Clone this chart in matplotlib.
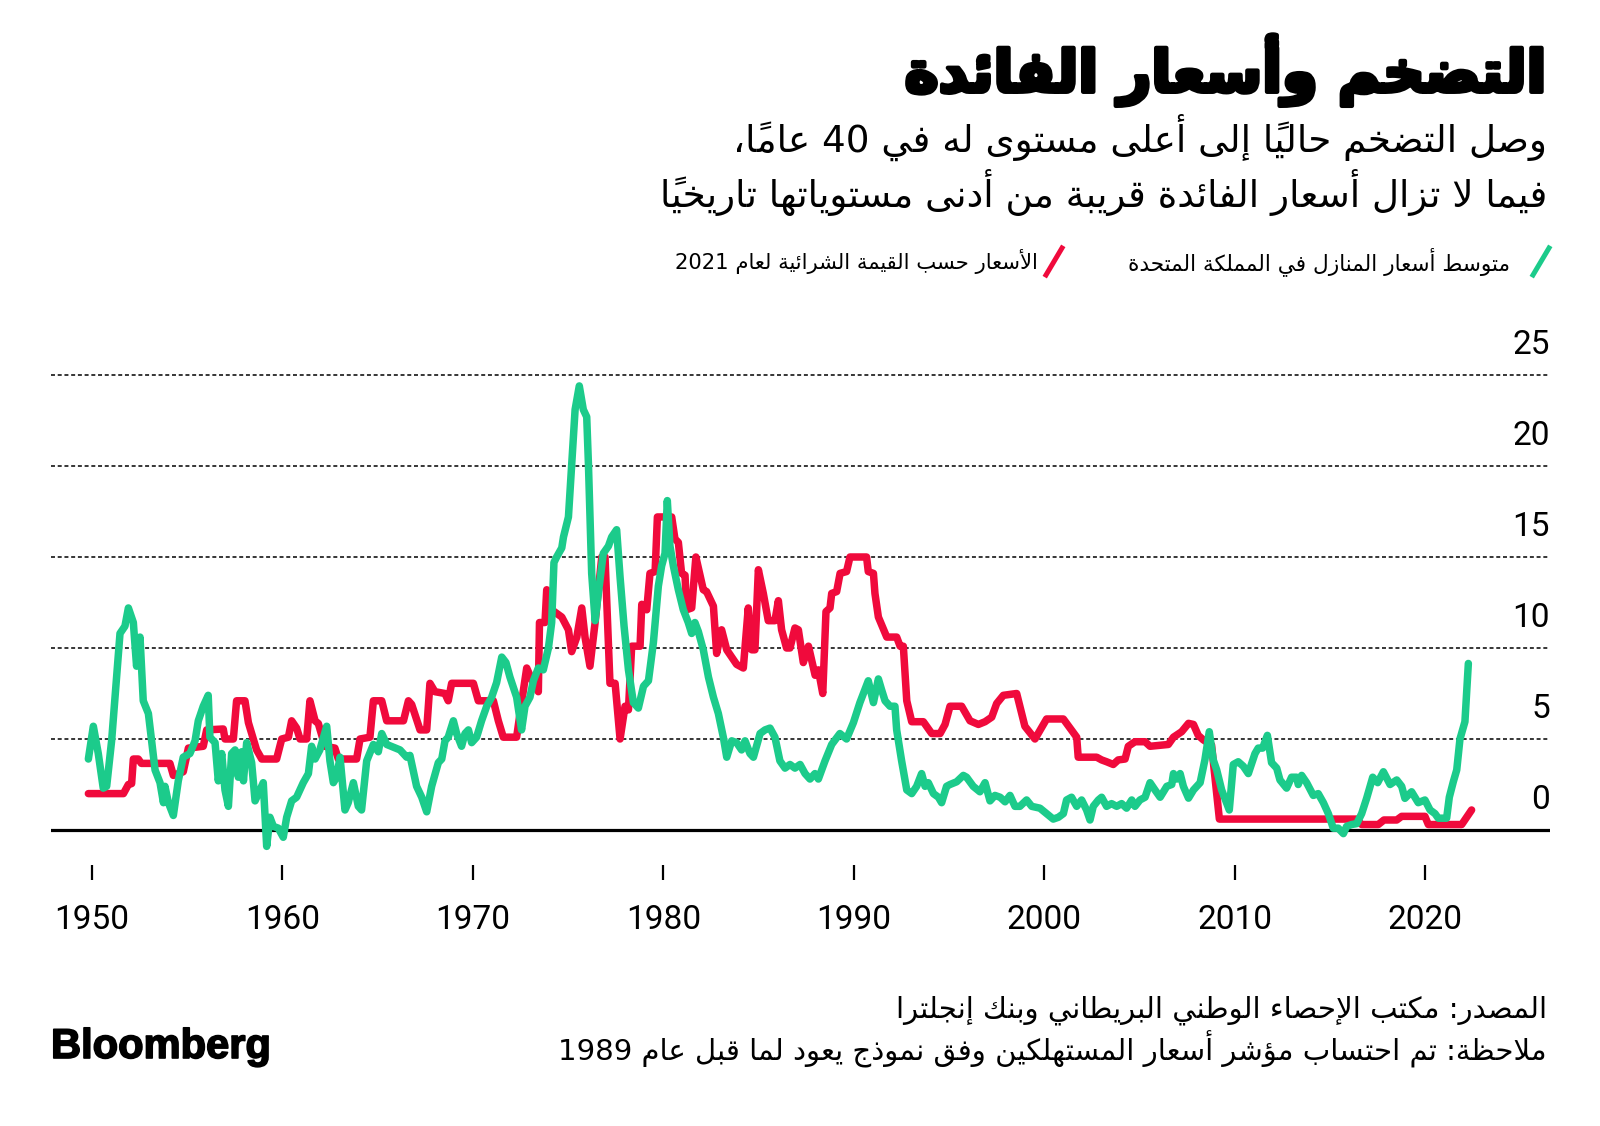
import numpy as np
import matplotlib
matplotlib.use('Agg')
import matplotlib.pyplot as plt
from matplotlib.lines import Line2D
import matplotlib.patheffects as pe

# %% data
cpi_year = [1949.82, 1950.08, 1950.34, 1950.60, 1950.78, 1951.04, 1951.48, 1951.74, 1951.92, 1952.18,
            1952.35, 1952.53, 1952.70, 1952.97, 1953.14, 1953.32, 1953.58, 1953.76, 1953.84, 1954.02,
            1954.28, 1954.54, 1954.80, 1955.15, 1955.42, 1955.59, 1955.85, 1956.11, 1956.20, 1956.47,
            1956.64, 1956.82, 1956.99, 1957.17, 1957.34, 1957.52, 1957.69, 1957.87, 1957.96, 1958.13,
            1958.39, 1958.57, 1958.83, 1959.00, 1959.18, 1959.35, 1959.53, 1959.79, 1960.05, 1960.23,
            1960.49, 1960.75, 1961.10, 1961.37, 1961.54, 1961.72, 1961.97, 1962.33, 1962.50, 1962.68,
            1962.85, 1963.03, 1963.29, 1963.46, 1963.73, 1963.99, 1964.16, 1964.43, 1964.78, 1965.04,
            1965.22, 1965.48, 1966.18, 1966.53, 1966.70, 1967.05, 1967.32, 1967.58, 1967.84, 1968.19,
            1968.37, 1968.54, 1968.71, 1968.98, 1969.15, 1969.41, 1969.59, 1969.77, 1969.94, 1970.20,
            1970.46, 1970.73, 1970.99, 1971.25, 1971.52, 1971.74, 1971.95, 1972.30, 1972.56, 1972.74,
            1973.00, 1973.18, 1973.44, 1973.70, 1973.97, 1974.14, 1974.26, 1974.40, 1974.67, 1974.76,
            1975.02, 1975.19, 1975.37, 1975.59, 1975.80, 1975.98, 1976.07, 1976.24, 1976.42, 1976.59,
            1976.85, 1977.12, 1977.29, 1977.55, 1977.73, 1977.94, 1978.17, 1978.43, 1978.69, 1978.96,
            1979.22, 1979.48, 1979.74, 1979.91, 1980.09, 1980.21, 1980.35, 1980.53, 1980.79, 1981.05,
            1981.31, 1981.49, 1981.66, 1981.84, 1982.10, 1982.37, 1982.63, 1982.89, 1983.15, 1983.33,
            1983.59, 1983.85, 1984.11, 1984.29, 1984.55, 1984.73, 1985.08, 1985.34, 1985.60, 1985.86,
            1986.12, 1986.39, 1986.65, 1986.91, 1987.18, 1987.44, 1987.70, 1987.96, 1988.14, 1988.49,
            1988.84, 1989.27, 1989.62, 1989.98, 1990.32, 1990.76, 1991.03, 1991.29, 1991.46, 1991.64,
            1991.90, 1992.16, 1992.25, 1992.51, 1992.78, 1993.04, 1993.30, 1993.56, 1993.74, 1993.91,
            1994.18, 1994.44, 1994.61, 1994.87, 1995.05, 1995.40, 1995.75, 1995.92, 1996.27, 1996.62,
            1996.89, 1997.15, 1997.41, 1997.68, 1997.94, 1998.20, 1998.46, 1998.72, 1999.07, 1999.34,
            1999.77, 2000.12, 2000.47, 2000.74, 2001.00, 2001.17, 2001.43, 2001.70, 2001.96, 2002.22,
            2002.40, 2002.57, 2002.84, 2003.01, 2003.27, 2003.53, 2003.80, 2004.06, 2004.32, 2004.59,
            2004.76, 2005.02, 2005.29, 2005.55, 2005.81, 2006.08, 2006.43, 2006.69, 2006.78, 2006.95,
            2007.13, 2007.30, 2007.57, 2007.83, 2008.18, 2008.43, 2008.66, 2008.87, 2009.05, 2009.31,
            2009.71, 2009.92, 2010.18, 2010.45, 2010.71, 2011.06, 2011.23, 2011.46, 2011.71, 2011.93,
            2012.20, 2012.37, 2012.72, 2012.98, 2013.25, 2013.33, 2013.51, 2013.77, 2014.12, 2014.38,
            2014.65, 2014.91, 2015.17, 2015.43, 2015.70, 2015.87, 2016.13, 2016.40, 2016.66, 2016.92,
            2017.24, 2017.50, 2017.80, 2018.15, 2018.50, 2018.76, 2018.93, 2019.28, 2019.63, 2019.98,
            2020.25, 2020.51, 2020.68, 2021.12, 2021.26, 2021.47, 2021.65, 2021.82, 2022.08, 2022.26]
cpi_value = [3.9, 5.7, 4.2, 2.3, 2.4, 4.9, 10.8, 11.2, 12.2, 11.4,
             9.0, 10.6, 7.1, 6.4, 4.9, 3.3, 2.6, 1.5, 2.4, 1.5,
             0.8, 2.7, 4.0, 4.2, 4.9, 6.0, 6.8, 7.4, 5.1, 4.8,
             2.7, 4.2, 2.2, 1.3, 4.2, 4.4, 2.9, 4.3, 2.7, 4.8,
             3.7, 1.6, 2.2, 2.6, -0.9, 0.7, 0.2, 0.1, -0.4, 0.7,
             1.6, 1.8, 2.6, 3.1, 4.6, 3.9, 4.4, 5.7, 3.8, 2.6,
             2.9, 4.0, 1.1, 1.5, 2.6, 1.3, 1.1, 3.8, 4.7, 4.3,
             5.3, 4.7, 4.4, 4.0, 4.1, 2.4, 1.8, 1.0, 2.4, 3.7,
             3.9, 4.9, 5.1, 6.0, 5.3, 4.6, 5.3, 5.5, 4.8, 5.1,
             6.0, 6.8, 7.3, 8.1, 9.5, 9.2, 8.4, 7.3, 5.5, 6.8,
             7.3, 8.2, 8.9, 8.8, 10.0, 11.4, 14.7, 15.0, 15.5, 16.1,
             17.2, 20.1, 23.1, 24.4, 23.1, 22.7, 20.1, 14.1, 11.5, 13.0,
             15.2, 15.6, 16.1, 16.5, 13.9, 11.2, 8.8, 7.0, 6.7, 7.9,
             8.2, 10.3, 13.4, 14.5, 15.2, 18.1, 15.6, 14.5, 13.2, 12.1,
             11.4, 10.8, 11.4, 10.9, 9.9, 8.4, 7.3, 6.4, 5.1, 4.0,
             4.9, 4.8, 4.4, 4.9, 4.2, 4.0, 5.3, 5.5, 5.6, 5.1,
             3.8, 3.4, 3.6, 3.4, 3.6, 3.1, 2.8, 3.1, 2.8, 3.8,
             4.7, 5.3, 5.0, 5.9, 7.0, 8.2, 7.0, 8.3, 7.7, 7.1,
             6.8, 6.8, 5.5, 3.8, 2.2, 2.0, 2.4, 3.1, 2.4, 2.6,
             2.0, 1.8, 1.5, 2.4, 2.5, 2.65, 3.0, 2.9, 2.4, 2.1,
             2.6, 1.6, 1.9, 1.8, 1.55, 1.9, 1.3, 1.3, 1.65, 1.3,
             1.2, 0.9, 0.6, 0.7, 0.9, 1.65, 1.8, 1.3, 1.65, 1.1,
             0.55, 1.3, 1.65, 1.8, 1.3, 1.45, 1.3, 1.45, 1.2, 1.65,
             1.3, 1.65, 1.8, 2.6, 2.2, 1.8, 2.4, 2.5, 3.1, 2.8,
             3.1, 2.4, 1.75, 2.2, 2.6, 3.85, 5.4, 3.85, 3.3, 2.2,
             1.1, 3.6, 3.75, 3.5, 3.1, 4.2, 4.5, 4.5, 5.2, 3.7,
             3.4, 2.75, 2.3, 2.9, 2.9, 2.5, 3.0, 2.6, 1.9, 2.0,
             1.5, 0.9, 0.1, 0.1, -0.2, 0.2, 0.3, 0.35, 0.9, 1.74,
             2.9, 2.6, 3.2, 2.5, 2.75, 2.4, 1.74, 2.1, 1.5, 1.65,
             1.1, 0.9, 0.65, 0.65, 1.8, 2.65, 3.3, 5.0, 5.95, 9.15]

rate_year = [1949.82, 1951.66, 1951.92, 1952.09, 1952.18, 1952.44, 1952.60, 1954.10, 1954.28, 1954.80,
             1955.07, 1955.85, 1956.03, 1956.90, 1956.99, 1957.43, 1957.60, 1958.04, 1958.22, 1958.48,
             1958.65, 1958.92, 1959.70, 1959.97, 1960.32, 1960.49, 1960.75, 1960.93, 1961.28, 1961.45,
             1961.72, 1961.89, 1962.24, 1962.76, 1962.94, 1963.90, 1964.08, 1964.60, 1964.78, 1965.22,
             1965.48, 1966.36, 1966.62, 1966.79, 1967.23, 1967.58, 1967.75, 1968.01, 1968.54, 1968.71,
             1968.89, 1970.03, 1970.29, 1971.08, 1971.34, 1971.60, 1972.30, 1972.56, 1972.83, 1973.18,
             1973.44, 1973.50, 1973.79, 1973.88, 1974.14, 1974.67, 1975.02, 1975.19, 1975.46, 1975.72,
             1975.89, 1976.15, 1976.42, 1976.77, 1976.94, 1977.20, 1977.47, 1977.73, 1977.99, 1978.17,
             1978.34, 1978.78, 1978.87, 1979.13, 1979.30, 1979.57, 1979.69, 1980.44, 1980.61, 1980.79,
             1980.96, 1981.14, 1981.22, 1981.49, 1981.71, 1982.10, 1982.27, 1982.63, 1982.80, 1983.06,
             1983.33, 1983.59, 1983.85, 1984.20, 1984.46, 1984.64, 1984.81, 1984.99, 1985.25, 1985.51,
             1985.86, 1986.04, 1986.21, 1986.47, 1986.65, 1986.91, 1987.09, 1987.35, 1987.62, 1987.97,
             1988.14, 1988.37, 1988.54, 1988.75, 1988.84, 1989.10, 1989.28, 1989.62, 1989.80, 1990.67,
             1990.76, 1991.03, 1991.11, 1991.29, 1991.73, 1992.25, 1992.43, 1992.60, 1992.78, 1993.04,
             1993.65, 1994.09, 1994.53, 1994.79, 1995.05, 1995.66, 1996.10, 1996.54, 1996.89, 1997.24,
             1997.50, 1997.85, 1998.55, 1998.98, 1999.51, 2000.12, 2001.00, 2001.70, 2001.78, 2002.75,
             2003.01, 2003.27, 2003.62, 2003.88, 2004.24, 2004.41, 2004.76, 2005.29, 2005.55, 2006.51,
             2006.78, 2007.21, 2007.57, 2007.83, 2008.08, 2008.35, 2008.78, 2008.96, 2009.19, 2016.40,
             2016.66, 2017.53, 2017.83, 2018.50, 2018.76, 2019.98, 2020.16, 2021.91, 2022.43]
rate_value = [2.0, 2.0, 2.5, 2.55, 3.9, 3.9, 3.66, 3.66, 3.0, 3.2,
              4.5, 4.6, 5.5, 5.55, 5.0, 5.0, 7.1, 7.1, 5.9, 5.0,
              4.4, 3.9, 3.9, 5.0, 5.1, 6.0, 5.6, 5.0, 5.0, 7.1,
              6.0, 5.85, 4.6, 4.5, 3.9, 3.9, 5.0, 5.1, 7.1, 7.1,
              6.0, 6.0, 7.1, 6.9, 5.5, 5.5, 8.06, 7.6, 7.5, 7.1,
              8.06, 8.06, 7.1, 7.1, 6.0, 5.1, 5.1, 7.0, 8.9, 8.06,
              7.6, 11.4, 11.4, 13.2, 12.1, 11.7, 11.0, 9.8, 10.6, 12.2,
              10.6, 9.0, 11.4, 15.0, 15.0, 8.06, 8.06, 5.0, 6.8, 6.6,
              10.1, 10.1, 12.4, 12.1, 14.1, 14.2, 17.2, 17.2, 16.0, 15.8,
              14.1, 14.0, 12.1, 12.2, 15.0, 13.2, 13.1, 12.3, 9.7, 11.0,
              9.9, 9.5, 9.1, 8.9, 12.2, 9.9, 9.9, 14.3, 13.0, 11.5,
              11.5, 12.6, 11.0, 10.0, 10.0, 11.1, 11.0, 9.2, 10.1, 8.5,
              8.8, 7.5, 12.0, 12.2, 13.0, 13.1, 14.1, 14.2, 15.0, 15.0,
              14.2, 14.1, 13.0, 11.7, 10.6, 10.6, 10.1, 10.1, 7.1, 5.95,
              5.95, 5.3, 5.3, 5.8, 6.8, 6.8, 6.0, 5.8, 5.95, 6.2,
              6.95, 7.4, 7.5, 5.7, 5.0, 6.1, 6.1, 5.1, 4.0, 4.0,
              3.85, 3.75, 3.6, 3.85, 3.9, 4.6, 4.85, 4.85, 4.6, 4.7,
              5.1, 5.4, 5.86, 5.8, 5.2, 4.95, 4.67, 2.9, 0.6, 0.6,
              0.3, 0.3, 0.55, 0.55, 0.75, 0.75, 0.3, 0.3, 1.1]

xtick_years = [1950, 1960, 1970, 1980, 1990, 2000, 2010, 2020]
ytick_values = [0, 5, 10, 15, 20, 25]

title = 'التضخم وأسعار الفائدة'
subtitle_1 = 'وصل التضخم حالياً إلى أعلى مستوى له في 40 عاماً،'
subtitle_2 = 'فيما لا تزال أسعار الفائدة قريبة من أدنى مستوياتها تاريخياً'
legend_labels = ['متوسط أسعار المنازل في المملكة المتحدة',
                 'الأسعار حسب القيمة الشرائية لعام 2021']
source_text = 'المصدر: مكتب الإحصاء الوطني البريطاني وبنك إنجلترا'
note_text = 'ملاحظة: تم احتساب مؤشر أسعار المستهلكين وفق نموذج يعود لما قبل عام 1989'

GREEN = '#1ccb8b'
RED = '#f00a3c'

# %% arabic shaping (matplotlib draws glyphs left to right, no joining)
_forms = [('ء', 0xFE80, 1), ('آ', 0xFE81, 2), ('أ', 0xFE83, 2), ('ؤ', 0xFE85, 2), ('إ', 0xFE87, 2),
          ('ئ', 0xFE89, 4), ('ا', 0xFE8D, 2), ('ب', 0xFE8F, 4), ('ة', 0xFE93, 2), ('ت', 0xFE95, 4),
          ('ث', 0xFE99, 4), ('ج', 0xFE9D, 4), ('ح', 0xFEA1, 4), ('خ', 0xFEA5, 4), ('د', 0xFEA9, 2),
          ('ذ', 0xFEAB, 2), ('ر', 0xFEAD, 2), ('ز', 0xFEAF, 2), ('س', 0xFEB1, 4), ('ش', 0xFEB5, 4),
          ('ص', 0xFEB9, 4), ('ض', 0xFEBD, 4), ('ط', 0xFEC1, 4), ('ظ', 0xFEC5, 4), ('ع', 0xFEC9, 4),
          ('غ', 0xFECD, 4), ('ف', 0xFED1, 4), ('ق', 0xFED5, 4), ('ك', 0xFED9, 4), ('ل', 0xFEDD, 4),
          ('م', 0xFEE1, 4), ('ن', 0xFEE5, 4), ('ه', 0xFEE9, 4), ('و', 0xFEED, 2), ('ى', 0xFEEF, 2),
          ('ي', 0xFEF1, 4)]
FORMS = {c: (s, n) for c, s, n in _forms}
LAMALEF = {'آ': 0xFEF5, 'أ': 0xFEF7, 'إ': 0xFEF9, 'ا': 0xFEFB}
MARKS = set(chr(c) for c in range(0x064B, 0x0653))


def _joins_next(c):
    return c in FORMS and FORMS[c][1] == 4


def _joins_prev(c):
    return c in FORMS and FORMS[c][1] >= 2


def shape(s):
    chars = list(s)
    n = len(chars)
    out = []
    prev = None
    i = 0
    while i < n:
        c = chars[i]
        if c in MARKS:
            out.append(c)
            i += 1
            continue
        j = i + 1
        while j < n and chars[j] in MARKS:
            j += 1
        nxt = chars[j] if j < n else None
        if c == 'ل' and nxt in LAMALEF:
            base = LAMALEF[nxt]
            out.append(chr(base + 1 if (prev and _joins_next(prev)) else base))
            out.extend(chars[i + 1:j])
            prev = nxt
            i = j + 1
            continue
        if c not in FORMS:
            out.append(c)
            prev = None
            i += 1
            continue
        start, k = FORMS[c]
        cp = prev is not None and _joins_next(prev)
        cn = k == 4 and nxt is not None and _joins_prev(nxt)
        if k == 1:
            f = start
        elif k == 2:
            f = start + 1 if cp else start
        else:
            f = start + (3 if cp and cn else 1 if cp else 2 if cn else 0)
        out.append(chr(f))
        prev = c
        i += 1
    return out


def ar(s):
    clusters = []
    for c in shape(s):
        if c in MARKS and clusters:
            clusters[-1] += c
        else:
            clusters.append(c)
    runs = []
    for cl in clusters:
        ltr = cl[0].isascii() and cl[0].isalnum()
        if runs and runs[-1][0] == ltr:
            runs[-1][1].append(cl)
        else:
            runs.append([ltr, [cl]])
    res = ''
    for ltr, cls in reversed(runs):
        res += ''.join(cls if ltr else reversed(cls))
    return res


# %% figure
W, H = 1600, 1126
plt.rcParams['font.family'] = ['DejaVu Sans']
fig = plt.figure(figsize=(W / 100, H / 100), dpi=100, facecolor='white')


def fx(px):
    return px / W


def fy(py):
    return 1 - py / H


x0, x1 = 1947.858, 2026.546
y0, y1 = -1.923, 27.0
ax = fig.add_axes([fx(51), fy(865), fx(1550) - fx(51), fy(338.6) - fy(865)])
ax.set_xlim(x0, x1)
ax.set_ylim(y0, y1)
for s in ax.spines.values():
    s.set_visible(False)
ax.set_yticks([])

for v in ytick_values:
    if v == 0:
        ax.axhline(v, color='black', lw=2.3, zorder=1)
    else:
        ax.axhline(v, color='black', lw=1.1, linestyle=(0, (2.6, 1.8)), zorder=1)
    ax.text(x1, v + 1.15, str(v), ha='right', va='baseline', fontsize=24,
            family=['Roboto', 'DejaVu Sans'], color='black')

ax.plot(rate_year, rate_value, color=RED, lw=5.4, solid_joinstyle='round',
        solid_capstyle='round', zorder=3)
ax.plot(cpi_year, cpi_value, color=GREEN, lw=5.4, solid_joinstyle='round',
        solid_capstyle='round', zorder=4)

ax.set_xticks(xtick_years)
ax.set_xticklabels([str(y) for y in xtick_years])
ax.tick_params(axis='x', length=10.8, width=1.6, color='black', pad=17, labelsize=24)
for lab in ax.get_xticklabels():
    lab.set_family(['Roboto', 'DejaVu Sans'])

# titles
fig.text(fx(1547), fy(70), ar(title), ha='right', va='center', fontsize=41.5,
         fontweight='bold', color='black',
         path_effects=[pe.withStroke(linewidth=3.2, foreground='black')])
fig.text(fx(1547), fy(137), ar(subtitle_1), ha='right', va='center', fontsize=26.8, color='black')
fig.text(fx(1547), fy(193), ar(subtitle_2), ha='right', va='center', fontsize=26.8, color='black')

# legend
fig.add_artist(Line2D([fx(1533), fx(1549)], [fy(275), fy(248)], color=GREEN, lw=3.6,
                      transform=fig.transFigure))
fig.text(fx(1510), fy(262), ar(legend_labels[0]), ha='right', va='center', fontsize=15.6)
fig.add_artist(Line2D([fx(1046), fx(1062)], [fy(275), fy(248)], color=RED, lw=3.6,
                      transform=fig.transFigure))
fig.text(fx(1038), fy(262), ar(legend_labels[1]), ha='right', va='center', fontsize=15.2)

# footer
fig.text(fx(1547), fy(1010), ar(source_text), ha='right', va='center', fontsize=21)
fig.text(fx(1547), fy(1049), ar(note_text), ha='right', va='center', fontsize=21)
fig.text(fx(51), fy(1047), 'Bloomberg', ha='left', va='center', fontsize=30,
         fontweight='bold', family=['Liberation Sans', 'DejaVu Sans'],
         path_effects=[pe.withStroke(linewidth=1.2, foreground='black')])

fig.savefig('out.png', dpi=100, facecolor='white')
